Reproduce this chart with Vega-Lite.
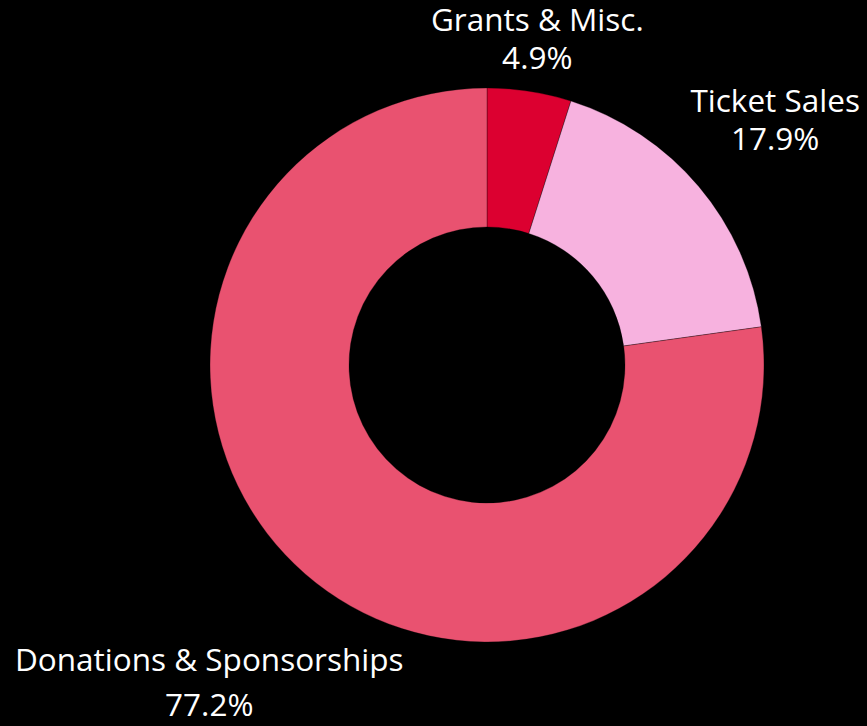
{
  "$schema": "https://vega.github.io/schema/vega-lite/v6.json",
  "autosize": "none",
  "width": 760,
  "height": 722,
  "padding": {"left": 107, "top": 4, "right": 0, "bottom": 0},
  "background": "#000000",
  "config": {"view": {"stroke": null}, "text": {"font": "Open Sans"}},
  "data": {"values": [
    {"category": "Grants & Misc.", "value": 4.9},
    {"category": "Ticket Sales", "value": 17.9},
    {"category": "Donations & Sponsorships", "value": 77.2}
  ]},
  "layer": [
    {
      "mark": {"type": "arc", "radius": 277, "radius2": 138, "stroke": "#000000", "strokeOpacity": 0.3, "strokeWidth": 1},
      "encoding": {
        "theta": {"field": "value", "type": "quantitative", "stack": true, "scale": {"domain": [0, 100]}},
        "order": {"field": "value", "type": "quantitative", "sort": "ascending"},
        "color": {"field": "category", "type": "nominal", "legend": null,
          "scale": {"domain": ["Grants & Misc.", "Ticket Sales", "Donations & Sponsorships"], "range": ["#DC0030", "#F7B2DF", "#E95270"]}}
      }
    },
    {
      "transform": [
        {"stack": "value", "groupby": [], "sort": [{"field": "value", "order": "ascending"}], "as": ["v0", "v1"]},
        {"calculate": "(datum.v0 + datum.v1) / 2", "as": "mid"},
        {"calculate": "datum.category + '\\n' + format(datum.value, '.1f') + '%'", "as": "label"},
        {"filter": "datum.category === 'Grants & Misc.'"}
      ],
      "mark": {"type": "text", "radius": 328, "dy": -19, "fontSize": 31.5, "color": "#ffffff", "lineBreak": "\n", "lineHeight": 38, "align": "center", "baseline": "middle"},
      "encoding": {
        "theta": {"field": "mid", "type": "quantitative", "stack": null, "scale": {"domain": [0, 100]}},
        "text": {"field": "label"}
      }
    },
    {
      "transform": [
        {"stack": "value", "groupby": [], "sort": [{"field": "value", "order": "ascending"}], "as": ["v0", "v1"]},
        {"calculate": "(datum.v0 + datum.v1) / 2", "as": "mid"},
        {"calculate": "datum.category + '\\n' + format(datum.value, '.1f') + '%'", "as": "label"},
        {"filter": "datum.category === 'Ticket Sales'"}
      ],
      "mark": {"type": "text", "radius": 377, "dy": -19, "fontSize": 31.5, "color": "#ffffff", "lineBreak": "\n", "lineHeight": 38, "align": "center", "baseline": "middle"},
      "encoding": {
        "theta": {"field": "mid", "type": "quantitative", "stack": null, "scale": {"domain": [0, 100]}},
        "text": {"field": "label"}
      }
    },
    {
      "transform": [
        {"stack": "value", "groupby": [], "sort": [{"field": "value", "order": "ascending"}], "as": ["v0", "v1"]},
        {"calculate": "(datum.v0 + datum.v1) / 2", "as": "mid"},
        {"calculate": "datum.category + '\\n' + format(datum.value, '.1f') + '%'", "as": "label"},
        {"filter": "datum.category === 'Donations & Sponsorships'"}
      ],
      "mark": {"type": "text", "radius": 423, "dy": -22.5, "fontSize": 31.5, "color": "#ffffff", "lineBreak": "\n", "lineHeight": 45, "align": "center", "baseline": "middle"},
      "encoding": {
        "theta": {"field": "mid", "type": "quantitative", "stack": null, "scale": {"domain": [0, 100]}},
        "text": {"field": "label"}
      }
    }
  ]
}
